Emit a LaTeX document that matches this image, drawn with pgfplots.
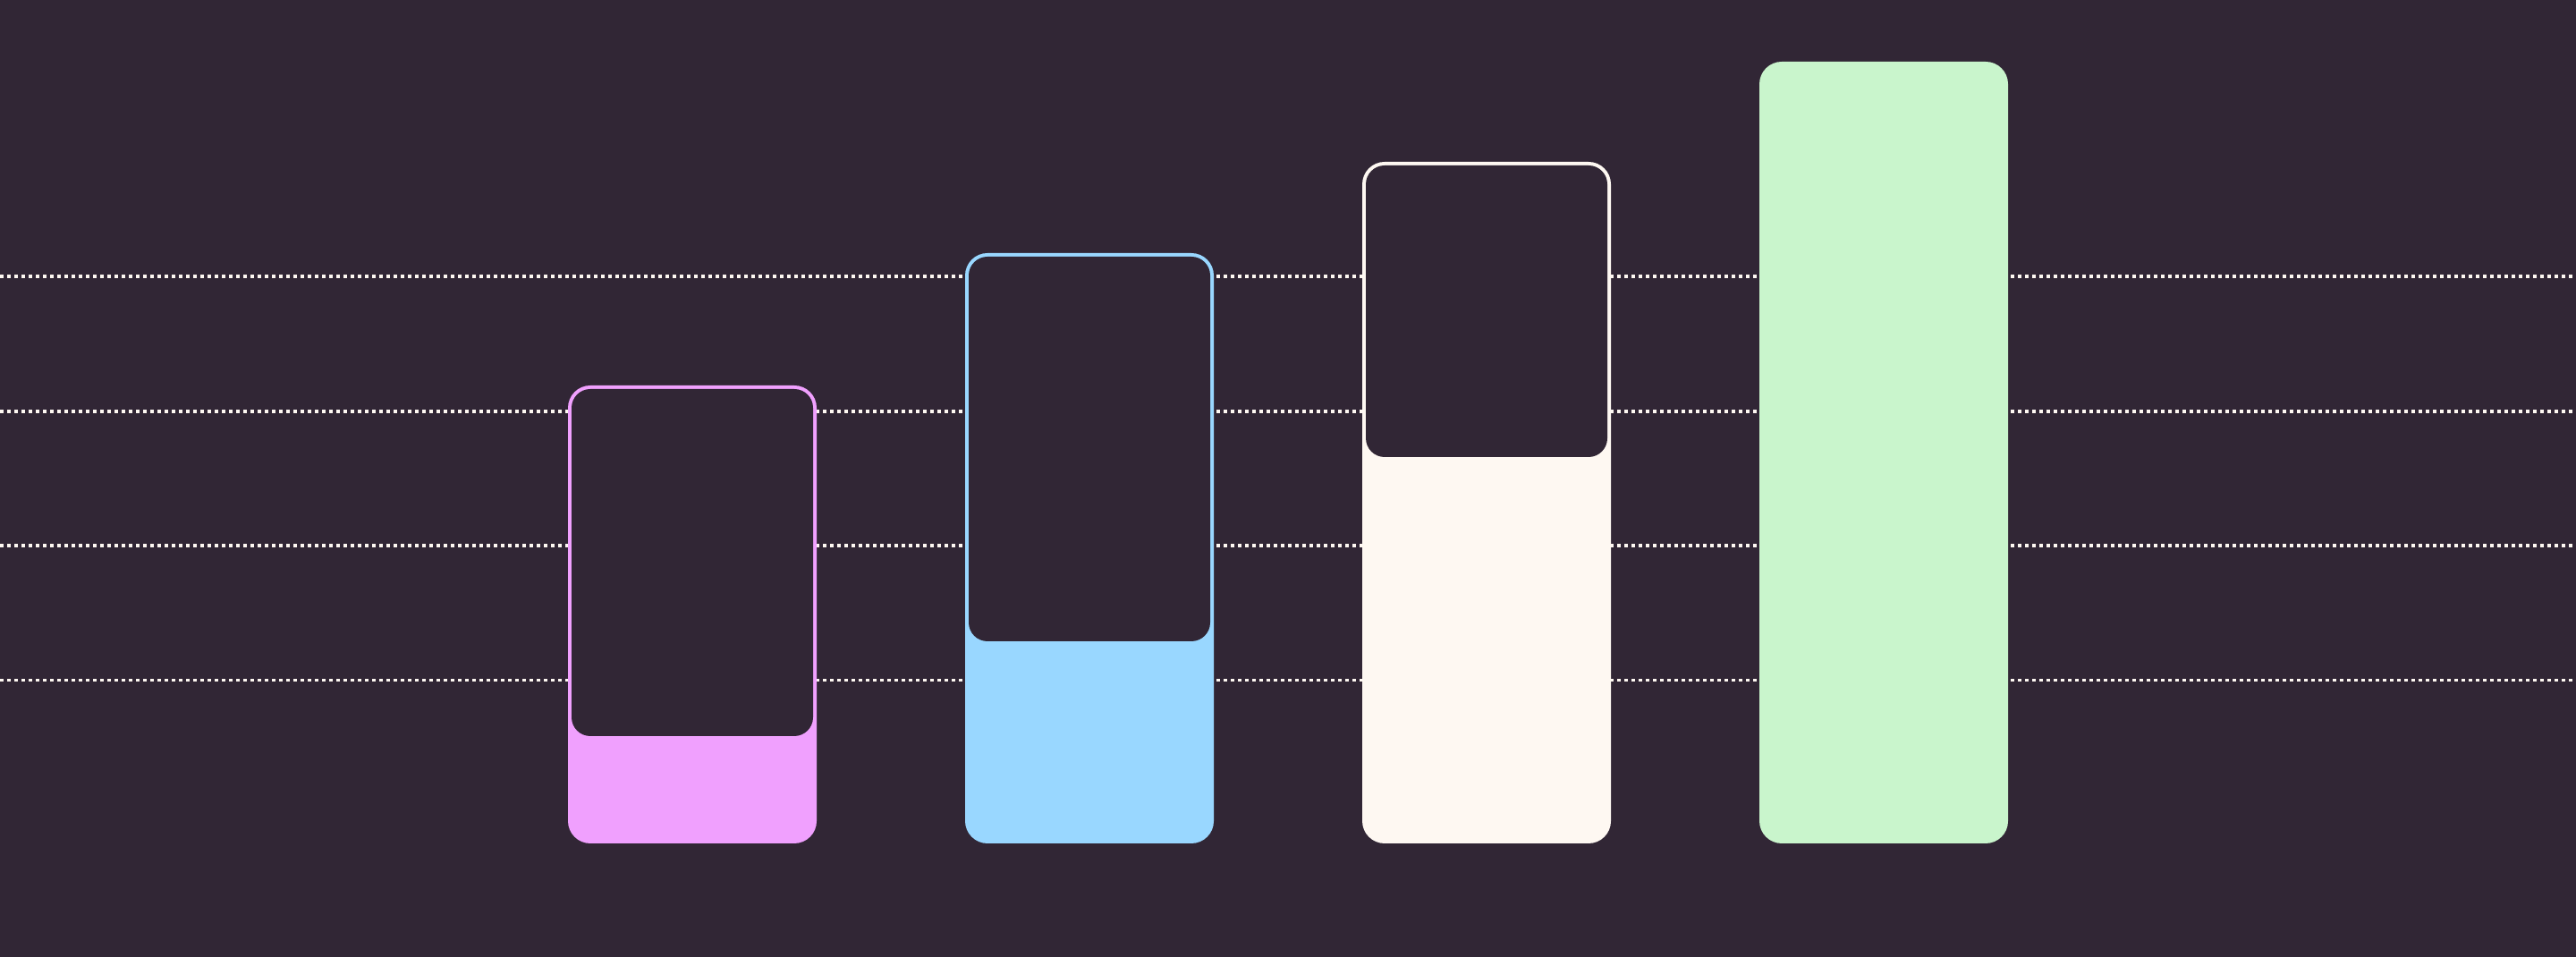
\documentclass[border=0pt]{standalone}
\usepackage{pgfplots}
\pgfplotsset{compat=1.18}
\definecolor{bg}{HTML}{312635}
\definecolor{cpink}{HTML}{F0A0FE}
\definecolor{cblue}{HTML}{99D7FF}
\definecolor{ccream}{HTML}{FEF8F2}
\definecolor{cgreen}{HTML}{C9F5CC}
\begin{document}
\begin{tikzpicture}
\begin{axis}[
  scale only axis, width=720pt, height=267.5pt,
  xmin=0, xmax=2880, ymin=-127, ymax=943,
  axis line style={draw=none},
  axis background/.style={fill=bg},
  xtick=\empty,
  ytick={182.5,333,483.3,634}, yticklabels={},
  tick label style={inner sep=0pt, outer sep=0pt},
  major tick length=0pt,
  ymajorgrids,
  major grid style={color=ccream, line width=0.95pt, dash pattern=on 1pt off 1pt},
]
% outer bars (full height)
\addplot[fill=cpink, draw=none, rounded corners=6.25pt] coordinates {(635,0) (635,512) (913,512) (913,0)} --cycle;
\addplot[fill=cblue, draw=none, rounded corners=6.25pt] coordinates {(1079,0) (1079,660) (1357,660) (1357,0)} --cycle;
\addplot[fill=ccream, draw=none, rounded corners=6.25pt] coordinates {(1523,0) (1523,762) (1801,762) (1801,0)} --cycle;
\addplot[fill=cgreen, draw=none, rounded corners=6.25pt] coordinates {(1967,0) (1967,874) (2245,874) (2245,0)} --cycle;
% inner (unfilled) parts
\addplot[fill=bg, draw=none, rounded corners=5.25pt] coordinates {(639,120) (639,508) (909,508) (909,120)} --cycle;
\addplot[fill=bg, draw=none, rounded corners=5.25pt] coordinates {(1083,226) (1083,656) (1353,656) (1353,226)} --cycle;
\addplot[fill=bg, draw=none, rounded corners=5.25pt] coordinates {(1527,432) (1527,758) (1797,758) (1797,432)} --cycle;
\end{axis}
\pgfresetboundingbox
\path[use as bounding box] (current axis.south west) rectangle (current axis.north east);
\end{tikzpicture}
\end{document}
